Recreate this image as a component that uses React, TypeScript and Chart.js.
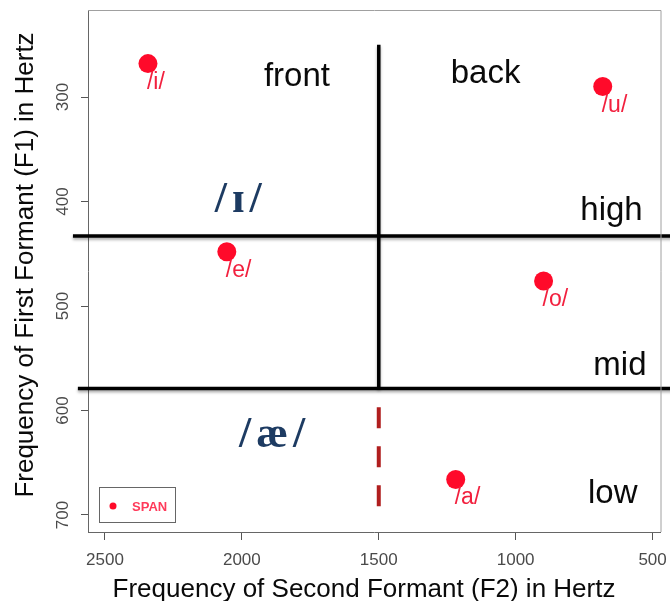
import React, { useEffect, useRef } from 'react';
import { Chart, registerables } from 'chart.js';

Chart.register(...registerables);

// Vowel measurements (F2 on x, F1 on y)
const vowelLabels = ['/i/', '/u/', '/e/', '/o/', '/a/'];
const f2Values = [2343, 682, 2055, 898, 1219];
const f1Values = [268, 290, 448, 476, 666];

const xTickValues = [2500, 2000, 1500, 1000, 500];
const yTickValues = [300, 400, 500, 600, 700];

// Divider lines (data coordinates)
const frontBackX = [1500, 1500];
const frontBackY = [250, 579];
const highMidX = [2617, 380];
const highMidY = [433, 433];
const midLowX = [2599, 380];
const midLowY = [579, 579];
const lowDashX = [1500, 1500];
const lowDashY = [597, 692];

// Region words
const regionText = ['front', 'back', 'high', 'mid', 'low'];
const regionX = [1799, 1110, 536, 522, 555];
const regionY = [289.5, 287, 418, 566, 688.5];
const regionAlign = ['center', 'center', 'right', 'right', 'right'];

// IPA symbols
const ipaText = ['/ɪ/', '/æ/'];
const ipaX = [2004, 1880];
const ipaY = [410, 635];

const legendLabel = 'SPAN';
const xTitle = 'Frequency of Second Formant (F2) in Hertz';
const yTitle = 'Frequency of First Formant (F1) in Hertz';

const SANS = '"Liberation Sans", Arial, sans-serif';
const SERIF = '"Liberation Serif", "Times New Roman", serif';
const POINT_RED = '#ff0a2a';
const LABEL_RED = '#f2203e';

const pairs = (xs: number[], ys: number[]) => xs.map((v, i) => ({ x: v, y: ys[i] }));

const lineDataset = (xs: number[], ys: number[], color: string, width: number, dash: number[] = []) => ({
  data: pairs(xs, ys),
  showLine: true,
  pointRadius: 0,
  pointHoverRadius: 0,
  borderColor: color,
  backgroundColor: color,
  borderWidth: width,
  borderDash: dash,
  borderCapStyle: 'butt',
  clip: false,
  isDivider: true,
});

const overlayPlugin = {
  id: 'overlay',
  beforeDatasetDraw(chart: any, args: any) {
    const ds = chart.data.datasets[args.index];
    if (ds.isDivider && !ds.borderDash.length) {
      const ctx = chart.ctx;
      ctx.save();
      ctx.shadowColor = 'rgba(0,0,0,0.35)';
      ctx.shadowBlur = 3;
      ctx.shadowOffsetY = 2;
      ds._shadowed = true;
    }
  },
  afterDatasetDraw(chart: any, args: any) {
    const ds = chart.data.datasets[args.index];
    if (ds._shadowed) {
      chart.ctx.restore();
      ds._shadowed = false;
    }
  },
  afterDraw(chart: any) {
    const { ctx, chartArea: a, scales } = chart;
    const x = scales.x;
    const y = scales.y;
    ctx.save();

    // top and right frame
    ctx.strokeStyle = '#a0a0a0';
    ctx.lineWidth = 1;
    ctx.beginPath();
    ctx.moveTo(a.left, a.top + 0.5);
    ctx.lineTo(a.right + 0.5, a.top + 0.5);
    ctx.lineTo(a.right + 0.5, a.bottom);
    ctx.stroke();

    // tick labels
    ctx.fillStyle = '#4a4a4a';
    ctx.font = `17px ${SANS}`;
    ctx.textAlign = 'center';
    ctx.textBaseline = 'alphabetic';
    xTickValues.forEach((v) => ctx.fillText(String(v), x.getPixelForValue(v), a.bottom + 33));
    yTickValues.forEach((v) => {
      ctx.save();
      ctx.translate(a.left - 20, y.getPixelForValue(v));
      ctx.rotate(-Math.PI / 2);
      ctx.fillText(String(v), 0, 0);
      ctx.restore();
    });

    // axis titles
    ctx.fillStyle = '#0a0a0a';
    ctx.font = `26px ${SANS}`;
    ctx.fillText(xTitle, 364, a.bottom + 65);
    ctx.save();
    ctx.font = `26px ${SANS}`;
    ctx.translate(33, 265);
    ctx.rotate(-Math.PI / 2);
    ctx.fillText(yTitle, 0, 0);
    ctx.restore();

    // point labels
    const meta = chart.getDatasetMeta(0);
    ctx.fillStyle = LABEL_RED;
    ctx.font = `23px ${SANS}`;
    ctx.textAlign = 'left';
    meta.data.forEach((el: any, i: number) => {
      ctx.fillText(vowelLabels[i], el.x - 1, el.y + 25);
    });

    // region words
    ctx.fillStyle = '#0a0a0a';
    ctx.font = `33px ${SANS}`;
    regionText.forEach((t, i) => {
      ctx.textAlign = regionAlign[i] as CanvasTextAlign;
      ctx.fillText(t, x.getPixelForValue(regionX[i]), y.getPixelForValue(regionY[i]));
    });

    // IPA symbols
    ctx.fillStyle = '#1d3b62';
    ctx.font = `bold 44px ${SERIF}`;
    ctx.textAlign = 'center';
    try { (ctx as any).letterSpacing = '5px'; } catch (e) {}
    ipaText.forEach((t, i) => {
      ctx.fillText(t, x.getPixelForValue(ipaX[i]), y.getPixelForValue(ipaY[i]));
    });
    try { (ctx as any).letterSpacing = '0px'; } catch (e) {}

    // legend
    ctx.strokeStyle = '#666';
    ctx.lineWidth = 1;
    ctx.strokeRect(a.left + 11.5, a.bottom - 44.5, 76, 35);
    ctx.fillStyle = POINT_RED;
    ctx.beginPath();
    ctx.arc(a.left + 25, a.bottom - 26, 3.5, 0, Math.PI * 2);
    ctx.fill();
    ctx.fillStyle = '#ff3a5a';
    ctx.font = `bold 13px ${SANS}`;
    ctx.textAlign = 'left';
    ctx.fillText(legendLabel, a.left + 44, a.bottom - 21);

    ctx.restore();
  },
};

export default function App() {
  const canvasRef = useRef<HTMLCanvasElement | null>(null);

  useEffect(() => {
    const canvas = canvasRef.current;
    if (!canvas) return;
    const chart = new Chart(canvas, {
      type: 'scatter',
      data: {
        datasets: [
          {
            label: legendLabel,
            data: pairs(f2Values, f1Values),
            pointRadius: 9.5,
            pointHoverRadius: 9.5,
            backgroundColor: POINT_RED,
            borderWidth: 0,
            clip: false,
          } as any,
          lineDataset(frontBackX, frontBackY, '#000', 3.5) as any,
          lineDataset(highMidX, highMidY, '#000', 3.5) as any,
          lineDataset(midLowX, midLowY, '#000', 3.5) as any,
          lineDataset(lowDashX, lowDashY, '#b01e1e', 4, [21, 18]) as any,
        ],
      },
      options: {
        animation: false,
        responsive: false,
        maintainAspectRatio: false,
        layout: { padding: { top: 10, right: 9, left: 0, bottom: 0 } },
        plugins: {
          legend: { display: false },
          tooltip: { enabled: false },
          title: { display: false },
        },
        events: [],
        scales: {
          x: {
            type: 'linear',
            reverse: true,
            min: 471,
            max: 2562,
            afterBuildTicks: (s: any) => { s.ticks = xTickValues.map((v) => ({ value: v })); },
            afterFit: (s: any) => { s.height = 69; },
            ticks: { display: false },
            grid: { display: true, drawOnChartArea: false, drawTicks: true, tickLength: 8, color: '#555', lineWidth: 1 },
            border: { display: true, color: '#666', width: 1 },
          },
          y: {
            type: 'linear',
            reverse: true,
            min: 216.7,
            max: 716.3,
            afterBuildTicks: (s: any) => { s.ticks = yTickValues.map((v) => ({ value: v })); },
            afterFit: (s: any) => { s.width = 88; },
            ticks: { display: false },
            grid: { display: true, drawOnChartArea: false, drawTicks: true, tickLength: 7, color: '#555', lineWidth: 1 },
            border: { display: true, color: '#666', width: 1 },
          },
        },
      } as any,
      plugins: [overlayPlugin],
    });
    return () => chart.destroy();
  }, []);

  return (
    <div style={{ position: 'fixed', left: 0, top: 0, width: 670, height: 601, background: '#fff' }}>
      <canvas ref={canvasRef} width={670} height={601} style={{ display: 'block', width: 670, height: 601 }} />
    </div>
  );
}
